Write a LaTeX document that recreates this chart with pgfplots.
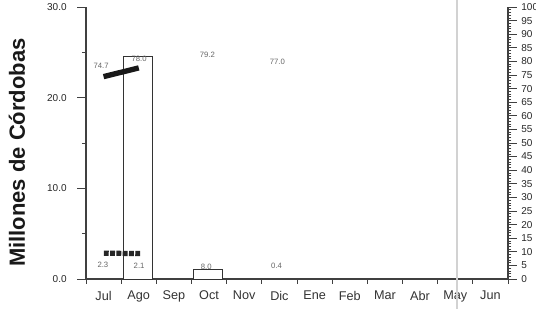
\documentclass[border=0pt]{standalone}
\usepackage{fontspec}
\setmainfont{Liberation Sans}
\usepackage{pgfplots}
\pgfplotsset{compat=1.18}
\begin{document}
\begin{tikzpicture}
\tikzset{lab/.style={font=\fontsize{5.8}{6}\selectfont, text=black!60, inner sep=0pt}}
% x axis
\begin{axis}[
  at={(0,0)}, anchor=south west,
  scale only axis, width=316.5pt, height=204pt,
  xmin=0, xmax=12, ymin=0, ymax=30,
  axis x line*=bottom, axis y line=none,
  axis line style={black!75, line width=0.8pt, -},
  xtick={0,1,...,12},
  xticklabels={Jul,Ago,Sep,Oct,Nov,Dic,Ene,Feb,Mar,Abr,May,Jun,{}},
  xticklabel style={xshift=13.19pt, yshift=-2pt, font=\fontsize{9.5}{10}\selectfont, text=black!80},
  tick align=outside,
  major tick length=3.5pt,
  tick style={black!75, line width=0.6pt},
]
\end{axis}
% left axis
\begin{axis}[
  at={(0,0)}, anchor=south west,
  scale only axis, width=316.5pt, height=204pt,
  xmin=0, xmax=12, ymin=0, ymax=30,
  axis x line=none, axis y line*=left,
  axis line style={black!75, line width=0.8pt, -},
  ytick={0,10,20,30},
  minor ytick={5,15,25},
  yticklabel style={font=\fontsize{7.5}{8}\selectfont, text=black!85, xshift=-4.5pt},
  /pgf/number format/assume math mode=true,
  yticklabel={\pgfmathprintnumber[fixed,fixed zerofill,precision=1]{\tick}},
  tick align=outside,
  major tick length=6.5pt, minor tick length=3pt,
  tick style={black!75, line width=0.6pt},
  ylabel={\bfseries Millones de Córdobas},
  ylabel style={at={(axis description cs:0,0.465)}, anchor=center, yshift=51.75pt, font=\fontsize{16.5}{17}\selectfont, text=black!90},
  clip=false,
]
\addplot[ybar, bar width=21.75pt, bar shift=-0.9pt, draw=black!80, fill=white, line width=0.6pt] coordinates {(1.5,24.6) (3.5,1.1)};
\addplot[black!85, line width=3.9pt, dash pattern=on 3.6pt off 1.1pt] coordinates {(0.51,2.85) (1.57,2.8)};
\node[lab] at (axis cs:0.43,23.5) {74.7};
\node[lab] at (axis cs:1.51,24.26) {78.0};
\node[lab] at (axis cs:3.45,24.7) {79.2};
\node[lab] at (axis cs:5.44,24.0) {77.0};
\node[lab] at (axis cs:0.48,1.54) {2.3};
\node[lab] at (axis cs:1.51,1.43) {2.1};
\node[lab] at (axis cs:3.42,1.32) {8.0};
\node[lab] at (axis cs:5.42,1.43) {0.4};
\end{axis}
% right axis
\begin{axis}[
  at={(0,0)}, anchor=south west,
  scale only axis, width=316.5pt, height=204pt,
  xmin=0, xmax=12, ymin=0, ymax=100,
  axis x line=none, axis y line*=right,
  axis line style={black!75, line width=0.8pt, -},
  ytick={0,5,...,100},
  minor y tick num=4,
  yticklabel style={font=\fontsize{7.5}{8}\selectfont, text=black!85},
  /pgf/number format/assume math mode=true,
  tick align=outside,
  major tick length=6.5pt, minor tick length=2.5pt,
  tick style={black!75, line width=0.5pt},
  clip=false,
]
\addplot[black!90, line width=4pt, line cap=butt] coordinates {(0.5,74.4) (1.5,77.6)};
\addplot[gray!35, line width=1pt] coordinates {(10.55,-11) (10.55,103)};
\end{axis}
\pgfresetboundingbox
\path[use as bounding box] (-64.5pt,-22.5pt) rectangle (337.5pt,209.25pt);
\end{tikzpicture}
\end{document}
